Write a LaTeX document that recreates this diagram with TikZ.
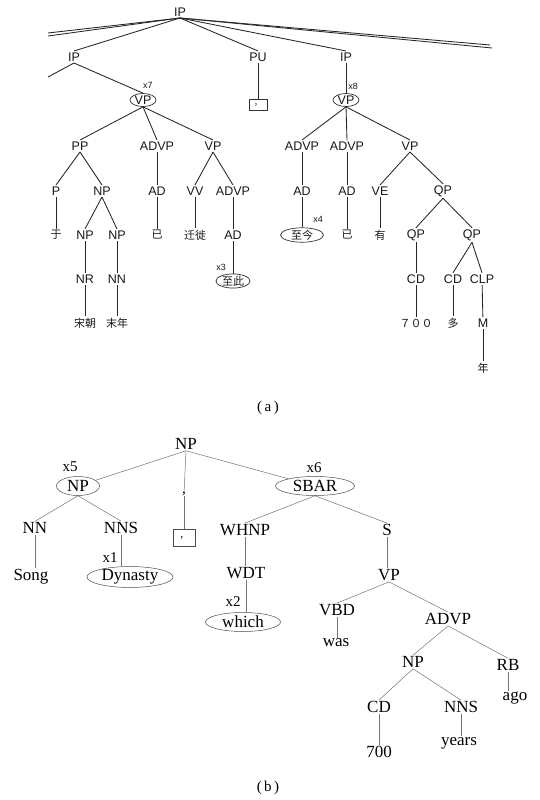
\documentclass[tikz,border=0pt]{standalone}
\usepackage{fontspec}
\setmainfont{Liberation Serif}
\setsansfont{Liberation Sans}
\newfontfamily\cjk{Noto Sans CJK SC}
\usetikzlibrary{shapes.geometric}

\begin{document}
\begin{tikzpicture}[x=1pt, y=-1pt,
	alab/.style={font=\sffamily\fontsize{12.5}{13}\selectfont, inner sep=1.5pt, text=black!90},
	aword/.style={font=\cjk\fontsize{11}{11}\selectfont, inner sep=1.5pt, text=black!90},
	aidx/.style={font=\sffamily\fontsize{9}{9}\selectfont, inner sep=0pt, text=black!90},
	ahl/.style={ellipse, draw=black!80, line width=0.7pt, inner sep=0pt, minimum width=#1, minimum height=13},
	abox/.style={draw=black!80, line width=0.7pt, minimum width=18, minimum height=11, inner sep=0pt, font=\cjk\fontsize{8}{8}\selectfont},
	aedge/.style={draw=black!85, line width=0.85pt},
	blab/.style={font=\fontsize{17}{18}\selectfont, inner sep=1pt, text=black},
	bidx/.style={font=\fontsize{15}{16}\selectfont, inner sep=0pt, text=black},
	bhl/.style={blab, ellipse, draw=black!70, line width=0.5pt, inner sep=0pt, minimum width=#1, minimum height=19},
	bbox/.style={draw=black!70, line width=0.5pt, minimum width=22, minimum height=17, inner sep=0pt, font=\cjk\fontsize{9}{9}\selectfont},
	bedge/.style={draw=black!55, line width=0.5pt}]
	\fill[white] (0,0) rectangle (540,800);
	\useasboundingbox (0,0) rectangle (540,800);

	% (a)
	\node[alab] (aIP) at (180,12) {IP};
	\coordinate (aL1) at (48,33);
	\coordinate (aL2) at (48,36);
	\coordinate (aR1) at (490,45);
	\coordinate (aR2) at (492,48);
	\node[alab] (aIP1) at (74,57) {IP};
	\node[alab] (aPU) at (258,57) {PU};
	\node[alab] (aIP2) at (346,57) {IP};
	\coordinate (aL3) at (48,77);
	\node[alab, ahl=26] (aVP1) at (143,100) {VP};
	\node[aidx] (ax7) at (148,85) {x7};
	\node[abox] (aPUb) at (258,105) {，};
	\node[alab, ahl=26] (aVP2) at (346,100) {VP};
	\node[aidx] (ax8) at (353,86) {x8};

	\node[alab] (aPP) at (80,146) {PP};
	\node[alab] (aADVP1) at (157,146) {ADVP};
	\node[alab] (aVP3) at (213,146) {VP};
	\node[alab] (aP) at (56,191) {P};
	\node[alab] (aNP1) at (102,191) {NP};
	\node[alab] (aAD1) at (157,191) {AD};
	\node[alab] (aVV) at (195,191) {VV};
	\node[alab] (aADVP2) at (233,191) {ADVP};
	\node[aword] (aw1) at (56,235) {于};
	\node[alab] (aNP2) at (85,235) {NP};
	\node[alab] (aNP3) at (117,235) {NP};
	\node[aword] (aw2) at (157,235) {已};
	\node[aword] (aw3) at (195,235) {迁徙};
	\node[alab] (aAD2) at (233,235) {AD};
	\node[alab] (aNR) at (85,279) {NR};
	\node[alab] (aNN) at (117,279) {NN};
	\node[aword, ahl=34] (aw4) at (233,281) {至此};
	\node[aidx] (ax3) at (221,267) {x3};
	\node[aword] (aw5) at (85,323) {宋朝};
	\node[aword] (aw6) at (117,323) {末年};

	\node[alab] (aADVP3) at (302,146) {ADVP};
	\node[alab] (aADVP4) at (347,146) {ADVP};
	\node[alab] (aVP4) at (410,146) {VP};
	\node[alab] (aAD3) at (302,191) {AD};
	\node[alab] (aAD4) at (347,191) {AD};
	\node[alab] (aVE) at (380,191) {VE};
	\node[alab] (aQP1) at (443,191) {QP};
	\node[aword, ahl=43] (aw7) at (302,235) {至今};
	\node[aidx] (ax4) at (318,219) {x4};
	\node[aword] (aw8) at (347,235) {已};
	\node[aword] (aw9) at (380,235) {有};
	\node[alab] (aQP2) at (416,235) {QP};
	\node[alab] (aQP3) at (472,235) {QP};
	\node[alab] (aCD1) at (416,279) {CD};
	\node[alab] (aCD2) at (453,279) {CD};
	\node[alab] (aCLP) at (482,279) {CLP};
	\node[aword] (aw10) at (416,323) {７００};
	\node[aword] (aw11) at (453,323) {多};
	\node[alab] (aM) at (483,323) {M};
	\node[aword] (aw12) at (483,368) {年};
	\node[font=\fontsize{15}{16}\selectfont] (acap) at (268,408) {(\,a\,)};

	\foreach \c in {aL1,aL2,aR1,aR2}
		\draw[aedge] (aIP.south) -- (\c);
	\foreach \c in {aIP1,aPU,aIP2}
		\draw[aedge] (aIP.south) -- (\c.north);
	\draw[aedge] (aIP1.south) -- (aL3);
	\draw[aedge] (aIP1.south) -- (aVP1.north);
	\draw[aedge] (aPU) -- (aPUb);
	\draw[aedge] (aIP2) -- (aVP2);
	\foreach \c in {aPP,aADVP1,aVP3}
		\draw[aedge] (aVP1.south) -- (\c.north);
	\foreach \c in {aP,aNP1}
		\draw[aedge] (aPP.south) -- (\c.north);
	\foreach \c in {aNP2,aNP3}
		\draw[aedge] (aNP1.south) -- (\c.north);
	\foreach \c in {aVV,aADVP2}
		\draw[aedge] (aVP3.south) -- (\c.north);
	\foreach \p/\c in {aP/aw1,aADVP1/aAD1,aAD1/aw2,aVV/aw3,aADVP2/aAD2,aAD2/aw4,
		aNP2/aNR,aNP3/aNN,aNR/aw5,aNN/aw6}
		\draw[aedge] (\p) -- (\c);
	\foreach \c in {aADVP3,aADVP4,aVP4}
		\draw[aedge] (aVP2.south) -- (\c.north);
	\foreach \c in {aVE,aQP1}
		\draw[aedge] (aVP4.south) -- (\c.north);
	\foreach \c in {aQP2,aQP3}
		\draw[aedge] (aQP1.south) -- (\c.north);
	\foreach \c in {aCD2,aCLP}
		\draw[aedge] (aQP3.south) -- (\c.north);
	\foreach \p/\c in {aADVP3/aAD3,aAD3/aw7,aADVP4/aAD4,aAD4/aw8,aVE/aw9,
		aQP2/aCD1,aCD1/aw10,aCD2/aw11,aCLP/aM,aM/aw12}
		\draw[aedge] (\p) -- (\c);

	% (b)
	\node[blab] (bNP) at (186,444) {NP};
	\node[bhl=43] (bNP1) at (78,486) {NP};
	\node[bidx] (bx5) at (70,467) {x5};
	\node[bidx] (bPU) at (184,494) {,};
	\node[bbox] (bPUb) at (184,538) {，};
	\node[bhl=79] (bSBAR) at (315,486) {SBAR};
	\node[bidx] (bx6) at (314,468) {x6};
	\node[blab] (bNN) at (35,528) {NN};
	\node[blab] (bNNS1) at (121,528) {NNS};
	\node[blab] (bWHNP) at (245,530) {WHNP};
	\node[blab] (bS) at (387,530) {S};
	\node[blab] (bSong) at (31,577) {Song};
	\node[bhl=86] (bDyn) at (130,577) {Dynasty};
	\node[bidx] (bx1) at (110,558) {x1};
	\node[blab] (bWDT) at (246,573) {WDT};
	\node[blab] (bVP) at (389,575) {VP};
	\node[bhl=75] (bwhich) at (243,622) {which};
	\node[bidx] (bx2) at (233,602) {x2};
	\node[blab] (bVBD) at (337,610) {VBD};
	\node[blab] (bADVP) at (448,619) {ADVP};
	\node[blab] (bwas) at (336,643) {was};
	\node[blab] (bNP2) at (413,662) {NP};
	\node[blab] (bRB) at (508,665) {RB};
	\node[blab] (bCD) at (379,707) {CD};
	\node[blab] (bNNS2) at (461,707) {NNS};
	\node[blab] (bago) at (515,698) {ago};
	\node[blab] (b700) at (379,752) {700};
	\node[blab] (byears) at (459,743) {years};
	\node[font=\fontsize{15}{16}\selectfont] (bcap) at (268,788) {(\,b\,)};

	\foreach \c in {bNP1,bSBAR}
		\draw[bedge] (bNP.south) -- (\c);
	\draw[bedge] (bNP.south) -- (bPU);
	\draw[bedge] (bPU) -- (bPUb);
	\foreach \c in {bNN,bNNS1}
		\draw[bedge] (bNP1.south) -- (\c.north);
	\foreach \c in {bWHNP,bS}
		\draw[bedge] (bSBAR.south) -- (\c.north);
	\foreach \c in {bVBD,bADVP}
		\draw[bedge] (bVP.south) -- (\c.north);
	\foreach \c in {bNP2,bRB}
		\draw[bedge] (bADVP.south) -- (\c.north);
	\foreach \c in {bCD,bNNS2}
		\draw[bedge] (bNP2.south) -- (\c.north);
	\foreach \p/\c in {bNN/bSong,bNNS1/bDyn,bWHNP/bWDT,bWDT/bwhich,bS/bVP,
		bVBD/bwas,bRB/bago,bCD/b700,bNNS2/byears}
		\draw[bedge] (\p.south) -- (\p.south |- \c.north);
\end{tikzpicture}
\end{document}
